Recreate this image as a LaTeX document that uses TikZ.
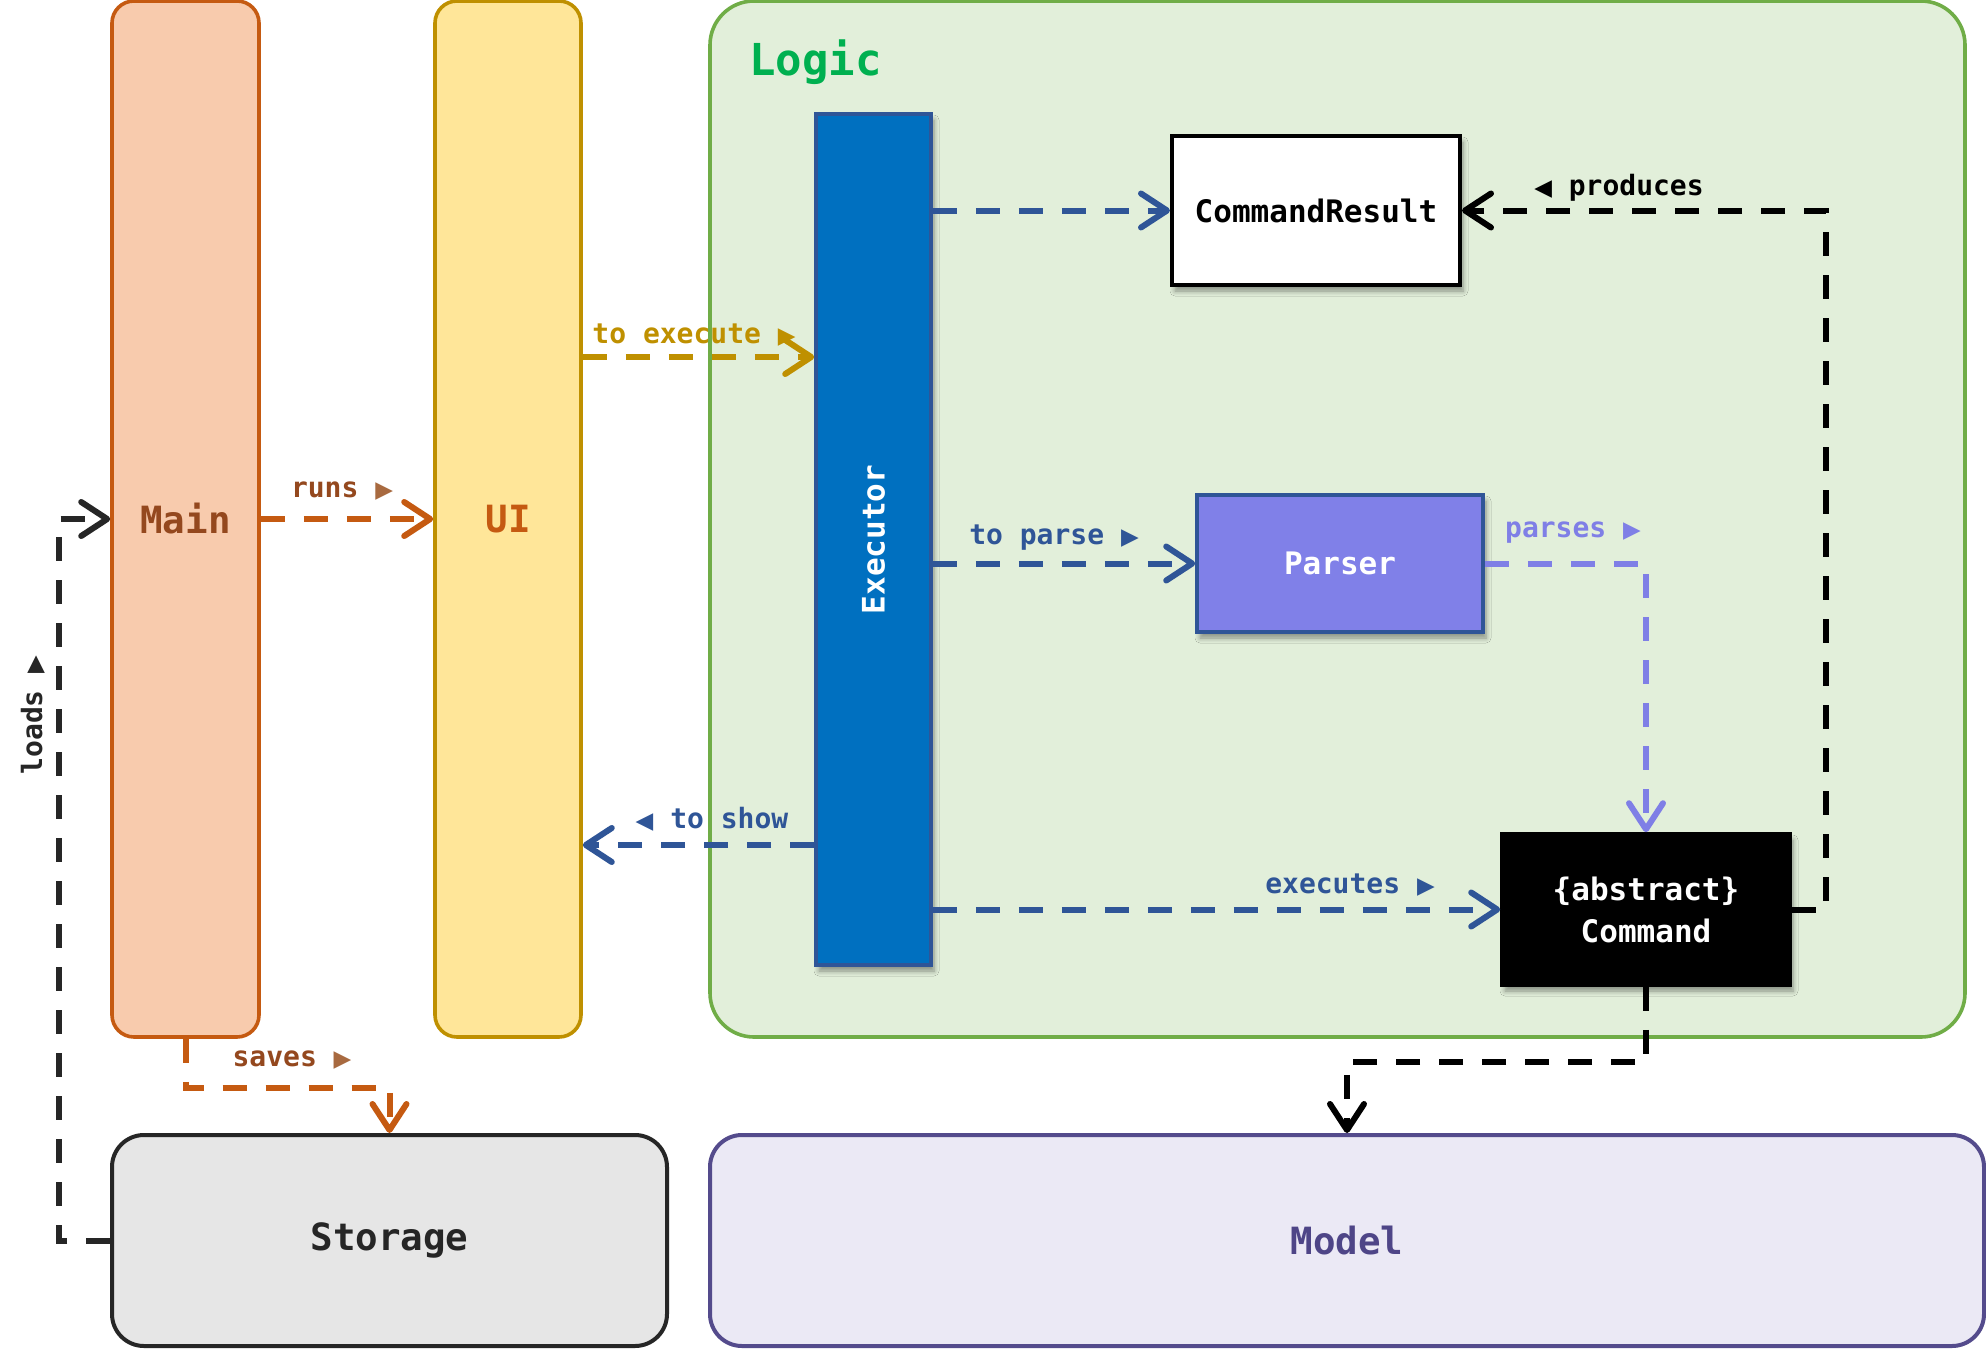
\documentclass[tikz,border=0pt]{standalone}
\usepackage{fontspec}
\setmainfont{DejaVu Sans Mono}
\newfontfamily\symf{DejaVu Sans}
\usetikzlibrary{arrows.meta,shadows,shadows.blur}
\newcommand{\rtri}{{\symf\fontsize{11.5}{11.5}\selectfont ▶}}
\newcommand{\ltri}{{\symf\fontsize{11.5}{11.5}\selectfont ◀}}
\definecolor{mainfill}{HTML}{F8CBAD}
\definecolor{orangeC}{HTML}{C55A11}
\definecolor{brownT}{HTML}{94481E}
\definecolor{brownTri}{HTML}{A86A40}
\definecolor{uifill}{HTML}{FFE699}
\definecolor{goldC}{HTML}{BF9000}
\definecolor{logicfill}{HTML}{E2EFDA}
\definecolor{logicline}{HTML}{70AD47}
\definecolor{logicT}{HTML}{00B050}
\definecolor{execfill}{HTML}{0070C0}
\definecolor{blueC}{HTML}{2F5597}
\definecolor{parserfill}{HTML}{8080E8}
\definecolor{parseC}{HTML}{7F7FE6}
\definecolor{storfill}{HTML}{E6E6E6}
\definecolor{darkC}{HTML}{262626}
\definecolor{modelfill}{HTML}{EBE9F5}
\definecolor{modelline}{HTML}{544B8C}
\definecolor{modelT}{HTML}{4E4587}
\begin{document}
\begin{tikzpicture}[x=0.5pt,y=-0.5pt,
  box/.style={draw, rectangle, line width=1.8pt, inner sep=0pt},
  bigtext/.style={font=\bfseries\fontsize{18.75}{20}\selectfont},
  midtext/.style={font=\bfseries\fontsize{15.5}{21}\selectfont},
  lbl/.style={font=\bfseries\fontsize{14}{14}\selectfont, inner sep=0pt},
  shad/.style={blur shadow={shadow xshift=1.5pt, shadow yshift=-3pt, shadow blur steps=6, shadow blur radius=2.5pt, shadow opacity=40}},
  conn/.style={line width=3pt, dash pattern=on 12pt off 9.5pt,
    -{Straight Barb[length=13pt,width=17pt,round]}}
]
\useasboundingbox (0,0) rectangle (1986,1349);
\fill[white] (0,0) rectangle (1986,1349);

% containers
\node[box, draw=logicline, fill=logicfill, rounded corners=22pt,
  minimum width=627.5pt, minimum height=518pt] (logic) at (1337.5,519) {};
\node[anchor=base west, inner sep=0pt, text=logicT,
  font=\bfseries\fontsize{22}{22}\selectfont] (logictitle) at (749,75) {Logic};

\node[box, draw=orangeC, fill=mainfill, rounded corners=11pt,
  minimum width=73.5pt, minimum height=518pt, bigtext, text=brownT] (main) at (185.5,519) {Main};
\node[box, draw=goldC, fill=uifill, rounded corners=11pt,
  minimum width=73pt, minimum height=518pt, bigtext, text=orangeC] (ui) at (508,519) {UI};

\node[box, draw=darkC, fill=storfill, line width=2pt, rounded corners=16pt,
  minimum width=277.5pt, minimum height=105.5pt, bigtext, text=darkC] (storage) at (389.5,1240.5) {Storage};
\node[box, draw=modelline, fill=modelfill, line width=2pt, rounded corners=16pt,
  minimum width=637pt, minimum height=105.5pt, bigtext, text=modelT] (model) at (1347,1240.5) {Model};

% logic components
\node[box, draw=blueC, fill=execfill, shad,
  minimum width=57.5pt, minimum height=425.5pt] (executor) at (873.5,539.5) {};
\node[rotate=90, text=white, midtext, inner sep=0pt] (exectext) at (executor.center) {Executor};

\node[box, draw=black, fill=white, line width=2pt, shad,
  minimum width=144pt, minimum height=74.5pt, midtext] (cr) at (1316,210.5) {CommandResult};
\node[box, draw=blueC, fill=parserfill, shad,
  minimum width=143pt, minimum height=68.5pt, midtext, text=white] (parser) at (1340,563.5) {Parser};
\node[box, draw=black, fill=black, shad,
  minimum width=144pt, minimum height=75.5pt, midtext, text=white, align=center] (command) at (1646,909.5) {\{abstract\}\\Command};

\coordinate (pc) at (1826,0);
\coordinate (lc) at (59,0);

% connectors
\draw[conn, orangeC] (main.east) -- (ui.west);
\draw[conn, goldC] (ui.east |- 0,357) -- (executor.west |- 0,357);
\draw[conn, blueC] (executor.east |- cr.west) -- (cr.west);
\draw[conn, blueC] (executor.east |- parser.west) -- (parser.west);
\draw[conn, blueC] (executor.east |- command.west) -- (command.west);
\draw[conn, blueC] (executor.west |- 0,845) -- (ui.east |- 0,845);
\draw[conn, parseC] (parser.east) -| (command.north);
\draw[conn, black] (command.east) -- (command.east -| pc) -- (pc |- cr.east) -- (cr.east);
\draw[conn, black] (command.south) -- ++(0,75) -| (model.north);
\draw[conn, orangeC] (main.south) -- ++(0,49) -| (storage.north);
\draw[conn, darkC] (storage.west) -| (lc |- main.west) -- (main.west);

% labels
\node[lbl, text=brownT] (lruns) at (342,491) {runs {\color{brownTri}\rtri}};
\node[lbl, text=goldC] (lexec) at (694,335) {to execute \rtri};
\node[lbl, text=blueC] (lparse) at (1054,538) {to parse \rtri};
\node[lbl, text=parseC] (lparses) at (1573,533) {parses \rtri};
\node[lbl, text=blueC] (lexecutes) at (1350,885) {executes \rtri};
\node[lbl, text=blueC] (lshow) at (712,819) {\ltri{} to show};
\node[lbl, text=black] (lprod) at (1619,188) {\ltri{} produces};
\node[lbl, text=brownT] (lsaves) at (292,1060) {saves {\color{brownTri}\rtri}};
\node[lbl, text=darkC, rotate=90] (lloads) at (33,715) {loads \rtri};
\end{tikzpicture}
\end{document}
